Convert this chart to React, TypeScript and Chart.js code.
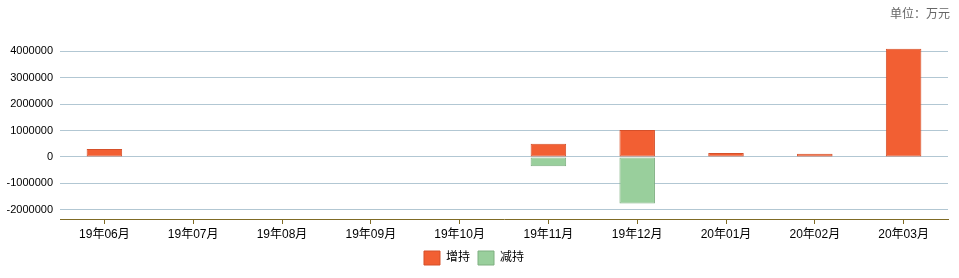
import React, { useEffect, useRef } from "react";
import { Chart, registerables } from "chart.js";

Chart.register(...registerables);

const categories = ["19年06月", "19年07月", "19年08月", "19年09月", "19年10月", "19年11月", "19年12月", "20年01月", "20年02月", "20年03月"];
const increaseValues = [300000, null, null, null, null, 500000, 1020000, 150000, 120000, 4100000];
const decreaseValues = [null, null, null, null, null, -350000, -1760000, null, null, null];
const yTicks = [-2000000, -1000000, 0, 1000000, 2000000, 3000000, 4000000];
const unitText = "单位：万元";
const seriesNames = ["增持", "减持"];

const unitPlugin = {
  id: "unitText",
  afterDraw(chart: any) {
    const ctx = chart.ctx;
    ctx.save();
    ctx.font = "12px 'Noto Sans CJK SC'";
    ctx.fillStyle = "#666";
    ctx.textAlign = "right";
    ctx.textBaseline = "middle";
    ctx.fillText(unitText, chart.chartArea.right + 2, 13);
    ctx.restore();
  },
};

export default function App() {
  const ref = useRef<HTMLCanvasElement | null>(null);
  useEffect(() => {
    document.body.style.margin = "0";
    const canvas = ref.current;
    if (!canvas) return;
    const chart = new Chart(canvas, {
      type: "bar",
      data: {
        labels: categories,
        datasets: [
          {
            label: seriesNames[0],
            data: increaseValues,
            backgroundColor: "#F25F33",
            borderColor: "#D5502A",
            borderWidth: 1,
            borderSkipped: false,
            barPercentage: 0.8,
            categoryPercentage: 0.5,
          },
          {
            label: seriesNames[1],
            data: decreaseValues,
            backgroundColor: "#99CF9C",
            borderColor: "#7EAF80",
            borderWidth: 1,
            borderSkipped: false,
            barPercentage: 0.8,
            categoryPercentage: 0.5,
          },
        ],
      },
      options: {
        responsive: false,
        animation: false,
        layout: { padding: { top: 46, right: 11, left: 0, bottom: 3 } },
        plugins: {
          legend: {
            position: "bottom",
            labels: {
              boxWidth: 16,
              boxHeight: 14,
              padding: 8,
              color: "#000",
              font: { family: "Liberation Sans, Noto Sans CJK SC", size: 12, lineHeight: 1.25 },
            },
          },
          tooltip: { enabled: false },
        },
        scales: {
          x: {
            stacked: true,
            border: { display: true, color: "#7F6B25", width: 1 },
            grid: { offset: false, drawOnChartArea: false, tickLength: 5, color: "#7F6B25" },
            ticks: { color: "#000", padding: 3, font: { family: "Liberation Sans, Noto Sans CJK SC", size: 12 }, maxRotation: 0 },
            afterFit: (s: any) => { s.height = 24; },
          },
          y: {
            stacked: true,
            min: -2350000,
            max: 4200000,
            border: { display: false },
            grid: { color: "#B2C7D3", drawTicks: false },
            ticks: {
              color: "#000",
              padding: 7,
              font: { family: "Liberation Sans", size: 11 },
              callback: (v: any) => String(v),
            },
            afterBuildTicks: (s: any) => { s.ticks = yTicks.map((v) => ({ value: v })); },
            afterFit: (s: any) => { s.width = 60; },
          },
        },
      },
      plugins: [unitPlugin],
    });
    return () => chart.destroy();
  }, []);
  return (
    <div style={{ width: 959, height: 278, background: "#fff" }}>
      <canvas ref={ref} width={959} height={278} style={{ display: "block" }} />
    </div>
  );
}
